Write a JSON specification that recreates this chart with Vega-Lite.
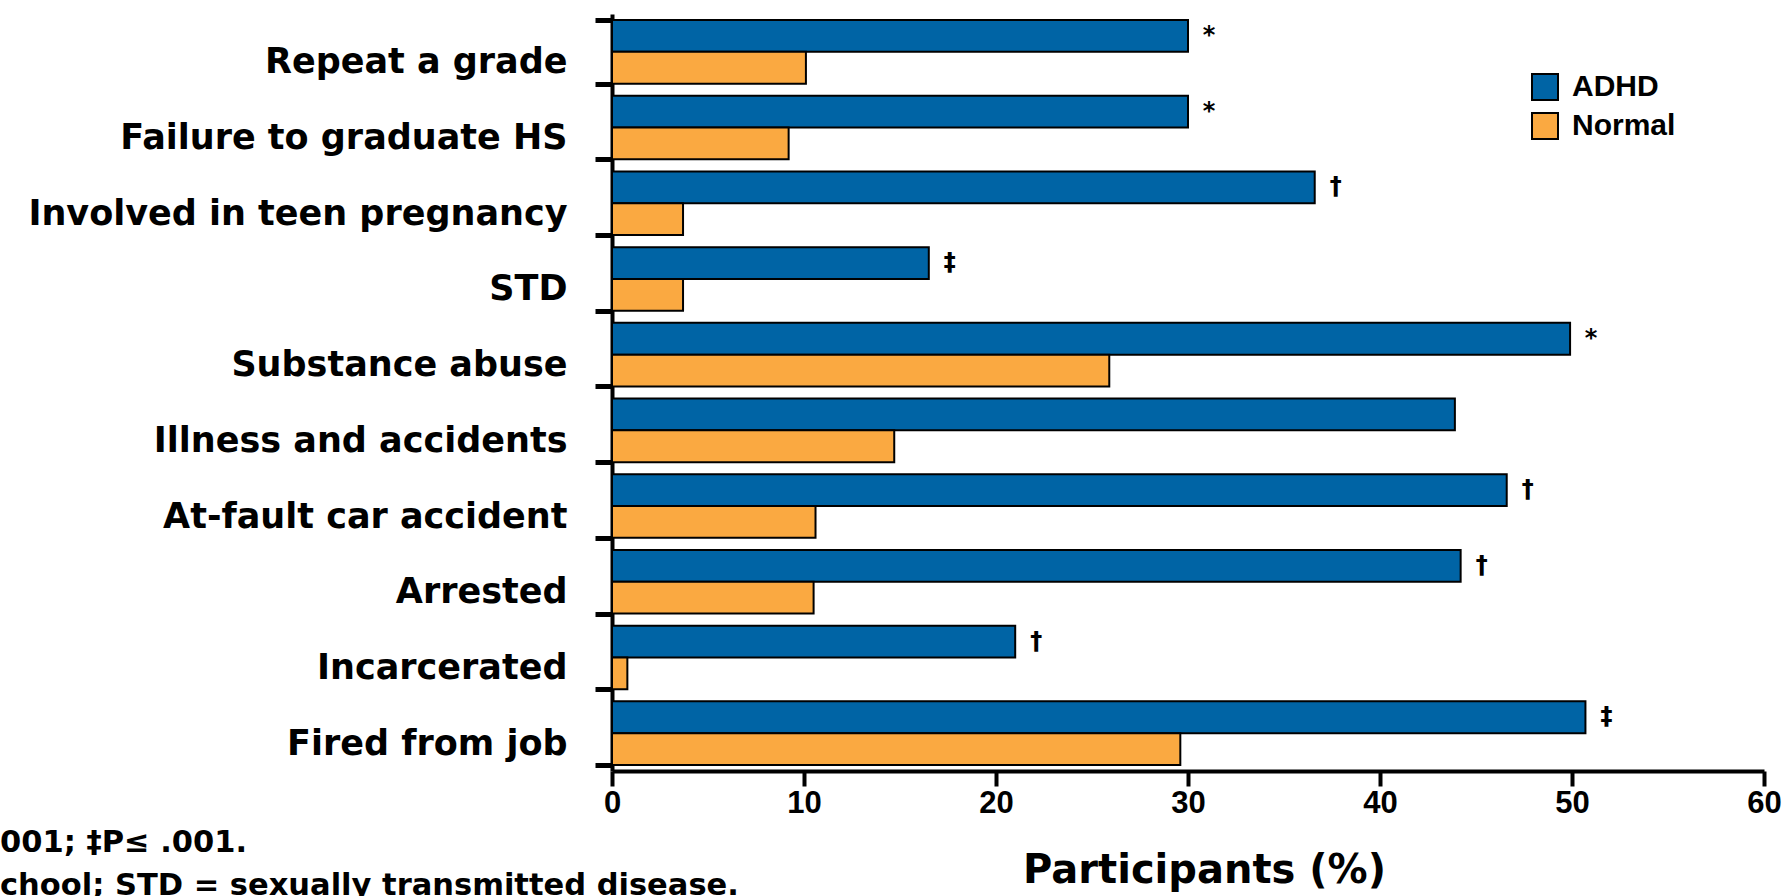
{
  "$schema": "https://vega.github.io/schema/vega-lite/v6.json",
  "width": 1152,
  "height": 757,
  "autosize": {"type": "none"},
  "padding": {"left": 612, "top": 14, "right": 21, "bottom": 125},
  "background": "white",
  "config": {"view": {"stroke": null}},
  "title": {
    "text": ["001; ‡P≤ .001.", "chool; STD = sexually transmitted disease."],
    "orient": "bottom",
    "anchor": "start",
    "frame": "group",
    "offset": 0,
    "dx": -612,
    "dy": -62,
    "font": "DejaVu Sans",
    "fontWeight": "bold",
    "fontSize": 30.5,
    "lineHeight": 43,
    "color": "black",
    "align": "left"
  },
  "data": {
    "values": [
      {"category": "Repeat a grade", "group": "ADHD", "value": 30.0, "sig": "*"},
      {"category": "Repeat a grade", "group": "Normal", "value": 10.1, "sig": ""},
      {"category": "Failure to graduate HS", "group": "ADHD", "value": 30.0, "sig": "*"},
      {"category": "Failure to graduate HS", "group": "Normal", "value": 9.2, "sig": ""},
      {"category": "Involved in teen pregnancy", "group": "ADHD", "value": 36.6, "sig": "†"},
      {"category": "Involved in teen pregnancy", "group": "Normal", "value": 3.7, "sig": ""},
      {"category": "STD", "group": "ADHD", "value": 16.5, "sig": "‡"},
      {"category": "STD", "group": "Normal", "value": 3.7, "sig": ""},
      {"category": "Substance abuse", "group": "ADHD", "value": 49.9, "sig": "*"},
      {"category": "Substance abuse", "group": "Normal", "value": 25.9, "sig": ""},
      {"category": "Illness and accidents", "group": "ADHD", "value": 43.9, "sig": ""},
      {"category": "Illness and accidents", "group": "Normal", "value": 14.7, "sig": ""},
      {"category": "At-fault car accident", "group": "ADHD", "value": 46.6, "sig": "†"},
      {"category": "At-fault car accident", "group": "Normal", "value": 10.6, "sig": ""},
      {"category": "Arrested", "group": "ADHD", "value": 44.2, "sig": "†"},
      {"category": "Arrested", "group": "Normal", "value": 10.5, "sig": ""},
      {"category": "Incarcerated", "group": "ADHD", "value": 21.0, "sig": "†"},
      {"category": "Incarcerated", "group": "Normal", "value": 0.8, "sig": ""},
      {"category": "Fired from job", "group": "ADHD", "value": 50.7, "sig": "‡"},
      {"category": "Fired from job", "group": "Normal", "value": 29.6, "sig": ""}
    ]
  },
  "encoding": {
    "y": {
      "field": "category",
      "type": "nominal",
      "sort": ["Repeat a grade", "Failure to graduate HS", "Involved in teen pregnancy", "STD", "Substance abuse", "Illness and accidents", "At-fault car accident", "Arrested", "Incarcerated", "Fired from job"],
      "scale": {"paddingInner": 0.16, "paddingOuter": 0.08},
      "axis": {
        "title": null,
        "domain": true,
        "domainColor": "black",
        "domainWidth": 4,
        "ticks": true,
        "tickBand": "extent",
        "tickColor": "black",
        "tickSize": 17,
        "tickWidth": 5,
        "labelFont": "DejaVu Sans",
        "labelFontWeight": "bold",
        "labelFontSize": 35,
        "labelColor": "black",
        "labelPadding": 28,
        "labelOffset": 10,
        "labelLimit": 800,
        "labelExpr": "datum.value == 'Incarcerated' ? datum.value + '\u00a0' : (datum.value == 'STD' || datum.value == 'Arrested' || datum.value == 'At-fault car accident') ? datum.value + '\u2002' : datum.value"
      }
    },
    "yOffset": {
      "field": "group",
      "type": "nominal",
      "sort": ["ADHD", "Normal"],
      "scale": {"paddingInner": 0, "paddingOuter": 0}
    },
    "x": {
      "field": "value",
      "type": "quantitative",
      "scale": {"domain": [0, 60], "nice": false},
      "axis": {
        "title": "Participants (%)",
        "titleX": 592,
        "values": [0, 10, 20, 30, 40, 50, 60],
        "grid": false,
        "domain": true,
        "domainColor": "black",
        "domainWidth": 4,
        "tickColor": "black",
        "tickSize": 15,
        "tickWidth": 4,
        "labelFont": "Liberation Sans",
        "labelFontWeight": "bold",
        "labelFontSize": 31,
        "labelColor": "black",
        "labelPadding": 2,
        "labelFlush": false,
        "titleFont": "DejaVu Sans",
        "titleFontWeight": "bold",
        "titleFontSize": 40,
        "titleColor": "black",
        "titlePadding": 32
      }
    }
  },
  "layer": [
    {
      "mark": {"type": "bar", "stroke": "black", "strokeWidth": 2},
      "encoding": {
        "color": {
          "field": "group",
          "type": "nominal",
          "scale": {"domain": ["ADHD", "Normal"], "range": ["#0064A5", "#FAA941"]},
          "legend": {
            "title": null,
            "orient": "none",
            "legendX": 918,
            "legendY": 58,
            "padding": 0,
            "symbolType": "square",
            "symbolSize": 676,
            "symbolStrokeColor": "black",
            "symbolStrokeWidth": 2,
            "symbolOpacity": 1,
            "labelFont": "Liberation Sans",
            "labelFontWeight": "bold",
            "labelFontSize": 30,
            "labelColor": "black",
            "labelOffset": 12,
            "rowPadding": 5
          }
        }
      }
    },
    {
      "mark": {"type": "text", "dx": 21, "align": "center", "baseline": "middle", "font": "DejaVu Sans", "fontWeight": "bold", "fontSize": 24, "color": "black"},
      "encoding": {"text": {"field": "sig", "type": "nominal"}}
    }
  ]
}
